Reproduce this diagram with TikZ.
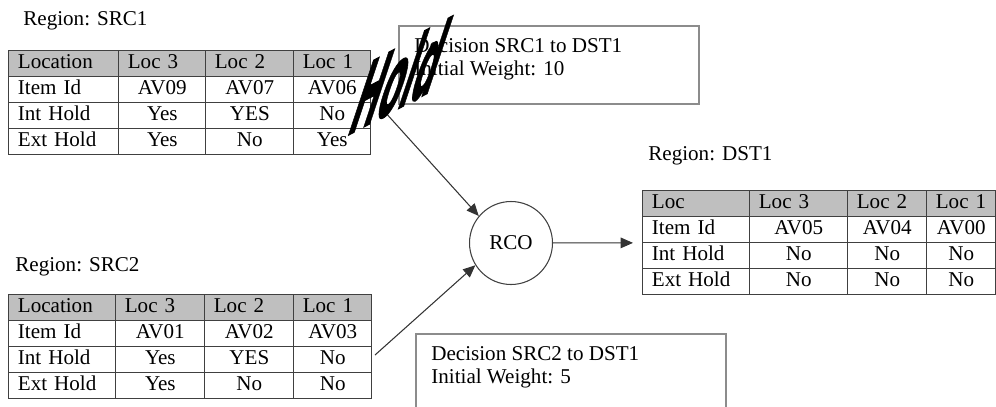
\documentclass[tikz,border=0pt]{standalone}
\usepackage{fontspec}
\setmainfont{Liberation Serif}
\newfontfamily\wordartfont[BoldFeatures={FakeBold=1.5}]{DejaVu Sans}
\usetikzlibrary{arrows.meta, positioning, matrix, calc}

\begin{document}
\begin{tikzpicture}[
        x=0.02cm, y=-0.02cm,
        font=\fontsize{12}{13}\selectfont,
        regionTable/.style={
            matrix of nodes,
            inner sep=0pt,
            column sep=-0.6pt,
            row sep=-0.6pt,
            nodes={
                draw=black!75,
                line width=0.6pt,
                minimum height=0.52cm,
                text height=1.6ex,
                text depth=0.4ex,
                inner xsep=0.18cm,
                align=center
            },
            row 1/.style={nodes={fill=gray!50, align=left}}
        },
        tableCols/.style n args={4}{
            column 1/.style={nodes={text width=#1, align=left}},
            column 2/.style={nodes={text width=#2}},
            column 3/.style={nodes={text width=#3}},
            column 4/.style={nodes={text width=#4}}
        },
        regionLabel/.style={
            anchor=base west,
            inner sep=0pt
        },
        decisionBox/.style={
            draw=gray!90,
            line width=0.9pt,
            anchor=north west,
            inner sep=0pt
        },
        decisionText/.style={
            anchor=north west,
            align=left,
            inner sep=0pt
        },
        rcoCircle/.style={
            circle,
            draw=black!75,
            line width=0.6pt,
            minimum size=1.66cm,
            inner sep=0pt
        },
        flowArrow/.style={
            -{Triangle[length=7pt, width=6pt]},
            draw=black!80,
            line width=0.6pt
        },
        holdMark/.style={
            font=\wordartfont\bfseries\fontsize{20}{20}\selectfont,
            anchor=base west,
            inner sep=0pt,
            cm={0.936,0.495,0.973,2.92,(0,0)}
        }
    ]

        \useasboundingbox (0,0) rectangle (996,406);
        \clip (0,0) rectangle (996,406);

        % Source regions
        \node[regionLabel] (src1Label) at (23,25) {Region: SRC1};
        \matrix[regionTable, tableCols={1.84cm}{1.38cm}{1.40cm}{1.18cm},
            anchor=north west] (src1) at (8,50) {
            Location & Loc 3 & Loc 2 & Loc 1 \\
            Item Id  & AV09  & AV07  & AV06  \\
            Int Hold & Yes   & YES   & No    \\
            Ext Hold & Yes   & No    & Yes   \\
        };

        \node[regionLabel] (src2Label) at (15,271) {Region: SRC2};
        \matrix[regionTable, tableCols={1.78cm}{1.42cm}{1.42cm}{1.20cm},
            anchor=north west] (src2) at (8,294) {
            Location & Loc 3 & Loc 2 & Loc 1 \\
            Item Id  & AV01  & AV02  & AV03  \\
            Int Hold & Yes   & YES   & No    \\
            Ext Hold & Yes   & No    & No    \\
        };

        % Destination region
        \node[regionLabel] (dst1Label) at (648,160) {Region: DST1};
        \matrix[regionTable, tableCols={1.78cm}{1.60cm}{1.22cm}{1.02cm},
            anchor=north west] (dst1) at (642,190) {
            Loc      & Loc 3 & Loc 2 & Loc 1 \\
            Item Id  & AV05  & AV04  & AV00  \\
            Int Hold & No    & No    & No    \\
            Ext Hold & No    & No    & No    \\
        };

        % Decisions
        \node[decisionBox, minimum width=6cm, minimum height=1.56cm] (dec1) at (398,25) {};
        \node[decisionText] (dec1Text) at ([shift={(0.32cm,-0.27cm)}]dec1.north west)
            {Decision SRC1 to DST1\\Initial Weight: 10};

        \node[decisionBox, minimum width=6.2cm, minimum height=2cm] (dec2) at (415,333) {};
        \node[decisionText] (dec2Text) at ([shift={(0.32cm,-0.27cm)}]dec2.north west)
            {Decision SRC2 to DST1\\Initial Weight: 5};

        % Combiner
        \node[rcoCircle] (rco) at (511,243) {RCO};

        \coordinate (tail1) at (384,111);
        \coordinate (tail2) at (375,355);

        \draw[flowArrow] (tail1) -- (rco.140);
        \draw[flowArrow] (tail2) -- (rco.212);
        \draw[flowArrow, shorten >=1.8mm] (rco) -- (dst1.west);

        % Stamp across the first decision
        \node[holdMark] (hold) at (345,137) {Hold};

    \end{tikzpicture}
\end{document}
